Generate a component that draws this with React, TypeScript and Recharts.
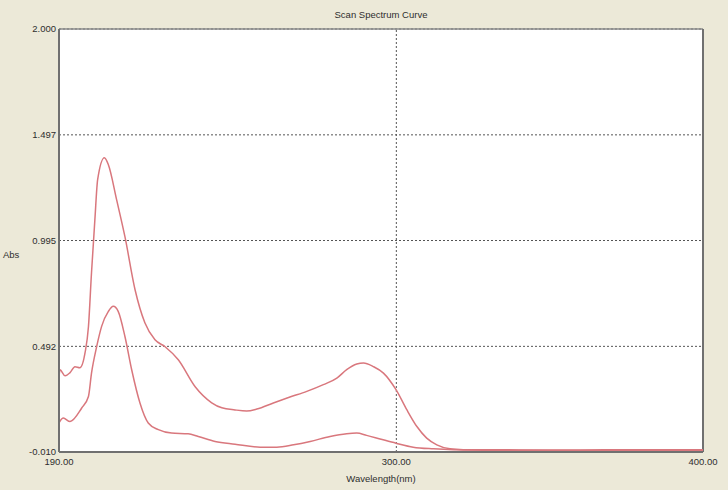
import React from "react";
import {
  LineChart,
  Line,
  XAxis,
  YAxis,
  CartesianGrid,
  ReferenceLine,
} from "recharts";

// upper scan (nm / Abs)
const upperNm = [
  190, 190.3, 192, 193.6, 195.2, 196.8, 198.5, 199.6, 200.6, 201.7, 202.6, 204.8,
  206.1, 208.8, 211.5, 214.8, 218, 221.3, 224.6, 228.9, 234.4, 239.8, 243.1,
  247.4, 251.2, 254.5, 259.9, 265.3, 270.8, 276.2, 280.6, 283.8, 287.1, 289.3,
  292.5, 295.8, 299.9, 303.4, 306.7, 309.9, 313.2, 317.5, 321.8, 340, 360, 380, 400,
];
const upperAbs = [
  0.343, 0.381, 0.352, 0.367, 0.395, 0.39, 0.462, 0.585, 0.842, 1.094, 1.284, 1.388,
  1.355, 1.188, 1.013, 0.761, 0.604, 0.523, 0.49, 0.428, 0.3, 0.224, 0.2,
  0.19, 0.185, 0.194, 0.223, 0.251, 0.278, 0.31, 0.341, 0.381, 0.408, 0.413,
  0.396, 0.365, 0.286, 0.191, 0.111, 0.056, 0.024, 0.005, 0.001, 0.0, 0.0, 0.001, 0.001,
];

// lower scan (nm / Abs)
const lowerNm = [
  190, 191.4, 193.6, 197.4, 199.6, 200.6, 202.3, 203.9, 206.1, 207.7, 209.3, 211.5,
  213.7, 216.4, 219.1, 222.4, 226.7, 232.1, 235.4, 240.9, 247.4, 255.6, 261,
  266.5, 271.9, 278.4, 283.8, 287.1, 290.3, 294.7, 299.9, 305.5, 312.1, 318.6,
  340, 360, 380, 400,
];
const lowerAbs = [
  0.128, 0.151, 0.135, 0.199, 0.254, 0.365, 0.492, 0.587, 0.658, 0.682, 0.658, 0.539,
  0.381, 0.223, 0.128, 0.096, 0.08, 0.077, 0.064, 0.04, 0.027, 0.013, 0.013,
  0.024, 0.04, 0.064, 0.077, 0.08, 0.069, 0.052, 0.032, 0.013, 0.005, 0.001,
  -0.002, -0.003, -0.004, -0.004,
];

const yTicks = [-0.01, 0.492, 0.995, 1.497, 2.0];
const xTicks = [190, 300, 400];

const upperData = upperNm.map((nm, i) => ({ nm, abs: upperAbs[i] }));
const lowerData = lowerNm.map((nm, i) => ({ nm, abs: lowerAbs[i] }));

const FONT = "'Liberation Sans', Arial, sans-serif";
const TEXT = "#2e2e2e";
const CURVE = "#d9777d";

export default function App() {
  return (
    <div
      style={{
        position: "fixed",
        left: 0,
        top: 0,
        width: 728,
        height: 490,
        background: "#ece9d8",
        fontFamily: FONT,
      }}
    >
      <div
        style={{
          position: "absolute",
          top: 9,
          left: 59,
          width: 644,
          textAlign: "center",
          fontSize: 9.5,
          color: TEXT,
        }}
      >
        Scan Spectrum Curve
      </div>
      <div
        style={{
          position: "absolute",
          top: 249,
          left: 3,
          fontSize: 9.5,
          color: TEXT,
        }}
      >
        Abs
      </div>
      <LineChart
        width={728}
        height={490}
        margin={{ top: 29, right: 25, left: 0, bottom: 0 }}
      >
        <CartesianGrid
          vertical={false}
          fill="#ffffff"
          stroke="#555"
          strokeDasharray="2 2"
        />
        <XAxis
          type="number"
          dataKey="nm"
          domain={[190, 400]}
          ticks={xTicks}
          allowDataOverflow
          height={38}
          tickLine={false}
          tickSize={0}
          tickMargin={6}
          axisLine={{ stroke: "#707070", strokeWidth: 2 }}
          tick={{ fill: TEXT, fontSize: 9.5, fontFamily: FONT }}
          tickFormatter={(v) => Number(v).toFixed(2)}
          label={{
            value: "Wavelength(nm)",
            position: "insideBottom",
            offset: 8,
            fill: TEXT,
            fontSize: 9.5,
            fontFamily: FONT,
          }}
        />
        <YAxis
          type="number"
          domain={[-0.01, 2.0]}
          ticks={yTicks}
          allowDataOverflow
          width={59}
          tickLine={false}
          tickSize={0}
          tickMargin={3}
          axisLine={{ stroke: "#707070", strokeWidth: 2 }}
          tick={{ fill: TEXT, fontSize: 9.5, fontFamily: FONT }}
          tickFormatter={(v) => Number(v).toFixed(3)}
        />
        <ReferenceLine x={300} stroke="#555" strokeDasharray="2 2" />
        <ReferenceLine y={2.0} stroke="#8a8a8a" strokeWidth={1.5} />
        <ReferenceLine x={400} stroke="#707070" strokeWidth={2} />
        <Line
          data={upperData}
          dataKey="abs"
          type="monotone"
          stroke={CURVE}
          strokeWidth={1.5}
          dot={false}
          isAnimationActive={false}
        />
        <Line
          data={lowerData}
          dataKey="abs"
          type="monotone"
          stroke={CURVE}
          strokeWidth={1.5}
          dot={false}
          isAnimationActive={false}
        />
      </LineChart>
    </div>
  );
}
